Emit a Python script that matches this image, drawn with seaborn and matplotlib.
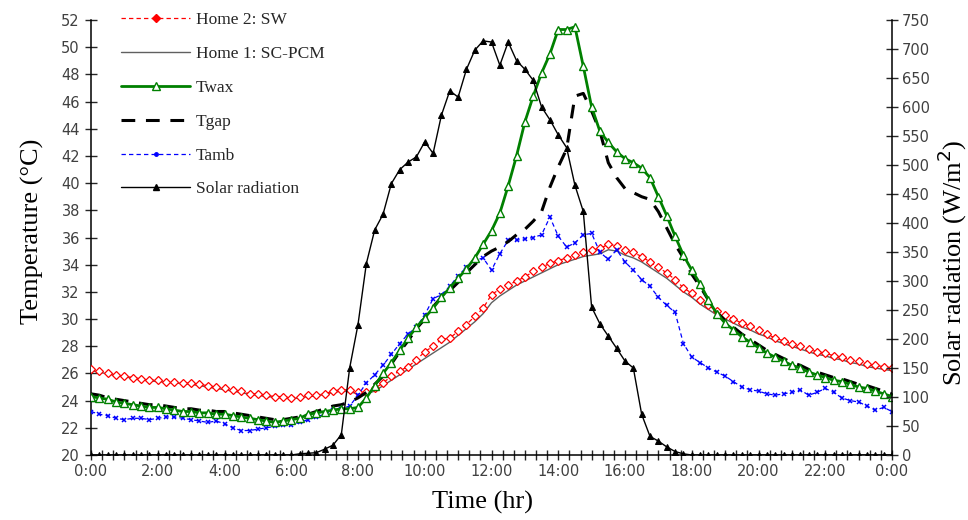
import numpy as np
import pandas as pd
import matplotlib
matplotlib.use("Agg")
import matplotlib.pyplot as plt
from matplotlib.lines import Line2D
import seaborn as sns

sns.set_style("white")
plt.rcParams["font.family"] = ["DejaVu Sans"]

# ---------------- data (15-min readings, 0:00 .. 24:00) ----------------
home2_sw = [
    26.3, 26.2, 26.0, 25.9,  25.8, 25.7, 25.6, 25.5,  25.5, 25.4, 25.4, 25.3,
    25.3, 25.2, 25.1, 25.0,  24.9, 24.8, 24.7, 24.5,  24.5, 24.4, 24.3, 24.3,
    24.2, 24.3, 24.4, 24.4,  24.5, 24.7, 24.8, 24.8,  24.6, 24.6, 24.9, 25.3,
    25.8, 26.2, 26.5, 27.0,  27.6, 28.0, 28.5, 28.6,  29.1, 29.6, 30.2, 30.8,
    31.8, 32.2, 32.5, 32.8,  33.1, 33.5, 33.8, 34.1,  34.3, 34.5, 34.7, 34.9,
    35.1, 35.2, 35.5, 35.4,  35.1, 34.9, 34.6, 34.2,  33.8, 33.4, 32.9, 32.3,
    31.9, 31.4, 31.0, 30.6,  30.3, 30.0, 29.7, 29.5,  29.2, 28.9, 28.6, 28.4,
    28.2, 28.0, 27.8, 27.6,  27.5, 27.3, 27.2, 27.0,  26.9, 26.7, 26.6, 26.5,
    26.4]

home1_scpcm = [
    26.2, 26.1, 25.95, 25.85,  25.75, 25.65, 25.55, 25.45,  25.4, 25.35, 25.3, 25.25,
    25.2, 25.1, 25.0, 24.9,    24.8, 24.7, 24.6, 24.45,     24.4, 24.3, 24.25, 24.2,
    24.15, 24.2, 24.3, 24.35,  24.45, 24.6, 24.7, 24.65,    24.5, 24.5, 24.7, 25.1,
    25.5, 25.9, 26.3, 26.7,    27.1, 27.5, 27.9, 28.3,      28.8, 29.3, 29.8, 30.4,
    31.2, 31.7, 32.1, 32.5,    32.8, 33.1, 33.4, 33.7,      34.0, 34.2, 34.4, 34.6,
    34.7, 34.8, 35.1, 35.0,    34.7, 34.5, 34.2, 33.8,      33.4, 33.0, 32.5, 32.0,
    31.6, 31.1, 30.7, 30.3,    30.0, 29.7, 29.4, 29.2,      28.9, 28.7, 28.4, 28.2,
    28.0, 27.8, 27.6, 27.4,    27.3, 27.1, 27.0, 26.8,      26.7, 26.5, 26.4, 26.3,
    26.2]

twax = [
    24.3, 24.2, 24.1, 23.9,  23.8, 23.7, 23.6, 23.5,  23.5, 23.4, 23.3, 23.2,
    23.2, 23.1, 23.1, 23.0,  23.0, 22.9, 22.8, 22.7,  22.6, 22.5, 22.4, 22.5,
    22.6, 22.7, 23.0, 23.1,  23.2, 23.3, 23.4, 23.4,  23.5, 24.2, 25.1, 26.0,
    26.8, 27.7, 28.6, 29.4,  30.1, 30.8, 31.6, 32.3,  33.0, 33.7, 34.5, 35.5,
    36.5, 37.8, 39.8, 42.0,  44.5, 46.4, 48.1, 49.5,  51.3, 51.3, 51.5, 48.6,
    45.6, 43.8, 43.0, 42.3,  41.8, 41.5, 41.1, 40.4,  39.0, 37.6, 36.1, 34.7,
    33.6, 32.6, 31.4, 30.4,  29.7, 29.2, 28.7, 28.3,  27.9, 27.5, 27.2, 26.9,
    26.6, 26.4, 26.1, 25.9,  25.7, 25.5, 25.4, 25.2,  25.0, 24.9, 24.7, 24.5,
    24.3]

tgap = [
    24.5, 24.4, 24.2, 24.1,  24.0, 23.9, 23.8, 23.7,  23.7, 23.6, 23.5, 23.4,
    23.4, 23.3, 23.3, 23.2,  23.2, 23.1, 23.0, 22.9,  22.8, 22.7, 22.6, 22.6,
    22.7, 22.8, 23.0, 23.2,  23.4, 23.6, 23.7, 23.9,  24.2, 24.6, 25.2, 25.8,
    26.7, 27.6, 28.4, 29.3,  30.0, 30.9, 31.6, 32.1,  32.7, 33.4, 34.0, 34.6,
    35.0, 35.3, 35.7, 36.2,  36.6, 37.2, 37.9, 39.7,  41.2, 42.5, 46.4, 46.6,
    45.3, 43.8, 41.5, 40.4,  39.6, 39.3, 39.0, 38.8,  37.9, 36.7, 35.5, 34.5,
    33.3, 32.4, 31.4, 30.5,  29.9, 29.4, 28.9, 28.5,  28.1, 27.7, 27.4, 27.1,
    26.8, 26.6, 26.3, 26.1,  25.9, 25.7, 25.6, 25.4,  25.2, 25.1, 24.9, 24.7,
    24.5]

tamb = [
    23.2, 23.0, 22.9, 22.7,  22.6, 22.7, 22.7, 22.6,  22.7, 22.8, 22.8, 22.7,
    22.6, 22.5, 22.4, 22.5,  22.3, 22.0, 21.8, 21.8,  21.9, 22.0, 22.1, 22.2,
    22.2, 22.4, 22.6, 22.8,  23.0, 23.3, 23.4, 23.6,  24.4, 25.3, 25.9, 26.6,
    27.4, 28.2, 28.9, 29.4,  30.3, 31.5, 31.8, 32.4,  33.2, 33.8, 34.3, 34.5,
    33.6, 34.8, 35.8, 35.8,  35.9, 36.0, 36.2, 37.5,  36.1, 35.3, 35.6, 36.2,
    36.3, 34.9, 34.4, 35.1,  34.2, 33.6, 32.9, 32.4,  31.6, 31.0, 30.5, 28.2,
    27.2, 26.8, 26.4, 26.1,  25.8, 25.4, 25.0, 24.8,  24.7, 24.5, 24.4, 24.5,
    24.6, 24.8, 24.4, 24.6,  24.9, 24.6, 24.2, 24.0,  23.9, 23.6, 23.3, 23.5,
    23.2]

solar = [
    0, 0, 0, 0,  0, 0, 0, 0,  0, 0, 0, 0,  0, 0, 0, 0,  0, 0, 0, 0,  0, 0, 0, 0,
    0, 2, 3, 4,  10, 17, 35, 150,  225, 330, 388, 415,  468, 492, 505, 514,
    540, 520, 586, 628,  617, 665, 698, 714,  712, 672, 712, 680,
    665, 646, 600, 578,  552, 530, 465, 420,  255, 226, 205, 184,
    162, 150, 70, 32,  24, 14, 6, 2,
    0, 0, 0, 0,  0, 0, 0, 0,  0, 0, 0, 0,  0, 0, 0, 0,  0, 0, 0, 0,  0, 0, 0, 0,
    0]

time_labels = ["0:00", "2:00", "4:00", "6:00", "8:00", "10:00", "12:00",
               "14:00", "16:00", "18:00", "20:00", "22:00", "0:00"]
temp_ticks = list(range(20, 53, 2))
solar_ticks = list(range(0, 751, 50))

hours = np.arange(len(home2_sw)) * 0.25
df = pd.DataFrame({"hour": hours, "home2": home2_sw, "home1": home1_scpcm,
                   "twax": twax, "tgap": tgap, "tamb": tamb, "solar": solar})

# ---------------- figure ----------------
W, H = 968, 520
fig = plt.figure(figsize=(W / 100, H / 100), dpi=100)
x0, x1, ytop, ybot = 91, 892, 20, 455
ax = fig.add_axes([x0 / W, 1 - ybot / H, (x1 - x0) / W, (ybot - ytop) / H])
ax2 = ax.twinx()

serif = ["Liberation Serif", "DejaVu Serif"]

# Home 1 (gray thin)
sns.lineplot(data=df, x="hour", y="home1", ax=ax, color="#606060", lw=1.0, zorder=3)
# Home 2 (red dashed with open diamonds)
sns.lineplot(data=df, x="hour", y="home2", ax=ax, color="red", lw=0.9,
             linestyle="--", marker="D", ms=3.6, mfc="white", mec="red", mew=0.9, zorder=4)
ax.lines[-1].set_dashes((3.5, 2.5))
# Tamb (blue dashed, small x markers)
sns.lineplot(data=df, x="hour", y="tamb", ax=ax, color="blue", lw=0.9,
             linestyle="--", marker="x", ms=3.2, mec="blue", mew=1.1, zorder=4)
ax.lines[-1].set_dashes((3.5, 2.5))
# Tgap (black long dashes)
sns.lineplot(data=df, x="hour", y="tgap", ax=ax, color="black", lw=2.2,
             linestyle="--", zorder=5)
ax.lines[-1].set_dashes((4.5, 3.5))
# Twax (green with open triangles)
sns.lineplot(data=df, x="hour", y="twax", ax=ax, color="#008000", lw=2.0,
             marker="^", ms=5.5, mfc="white", mec="#008000", mew=1.0, zorder=6)
# Solar radiation (secondary axis)
sns.lineplot(data=df, x="hour", y="solar", ax=ax2, color="black", lw=1.0,
             marker="^", ms=5, mfc="black", mec="black", zorder=6)

ax.set_xlim(0, 24)
ax.set_ylim(20, 52)
ax2.set_ylim(0, 750)

ax.set_xticks(np.arange(0, 25, 2))
ax.set_xticklabels(time_labels)
ax.set_xticks(np.arange(0, 24.01, 1 / 3), minor=True)
ax.set_yticks(temp_ticks)
ax2.set_yticks(solar_ticks)

for a in (ax, ax2):
    for s in a.spines.values():
        s.set_color("black")
        s.set_linewidth(1.1)
    a.spines["top"].set_visible(False)
    a.grid(False)
ax.spines["right"].set_visible(False)
ax2.spines["left"].set_visible(False)
ax2.spines["bottom"].set_visible(False)

ax.tick_params(axis="y", which="major", direction="inout", length=8, width=1.0,
               labelsize=10.5, labelcolor="#404040", pad=4, left=True)
ax.tick_params(axis="x", which="both", direction="inout", length=7, width=1.0,
               labelsize=10.5, labelcolor="#404040", pad=3, bottom=True)
ax2.tick_params(axis="y", which="major", direction="inout", length=8, width=1.0,
                labelsize=10.5, labelcolor="#404040", pad=3, right=True)

ax.set_xlabel("Time (hr)", family=serif, fontsize=19, color="black")
ax.xaxis.set_label_coords((483 - x0) / (x1 - x0), (ybot - 491) / (ybot - ytop))
ax.set_ylabel("Temperature (°C)", family=serif, fontsize=19, color="black")
ax.yaxis.set_label_coords((44 - x0) / (x1 - x0), (ybot - 231) / (ybot - ytop))
ax2.set_ylabel("Solar radiation (W/m$^2$)", family=serif, fontsize=19, color="black")
ax2.yaxis.set_label_coords((936 - x0) / (x1 - x0), (ybot - 263) / (ybot - ytop))

handles = [
    Line2D([], [], color="red", lw=0.9, dashes=(3.5, 2.5), marker="D", ms=3.6,
           mfc="red", mec="red"),
    Line2D([], [], color="#606060", lw=1.0),
    Line2D([], [], color="#008000", lw=2.0, marker="^", ms=6, mfc="white", mec="#008000"),
    Line2D([], [], color="black", lw=2.2, dashes=(4.5, 3.5)),
    Line2D([], [], color="blue", lw=0.9, dashes=(3.5, 2.5), marker="o", ms=2.5,
           mfc="blue", mec="blue"),
    Line2D([], [], color="black", lw=1.0, marker="^", ms=5, mfc="black", mec="black"),
]
labels = ["Home 2: SW", "Home 1: SC-PCM", "Twax", "Tgap", "Tamb", "Solar radiation"]
fig.legend(handles, labels, loc="upper left", bbox_to_anchor=(121 / W, 1 - 12 / H),
           frameon=False, prop={"family": serif, "size": 12.5}, handlelength=4.0,
           handletextpad=0.3, labelspacing=1.02, borderpad=0, borderaxespad=0)

fig.savefig("out.png", dpi=100)
